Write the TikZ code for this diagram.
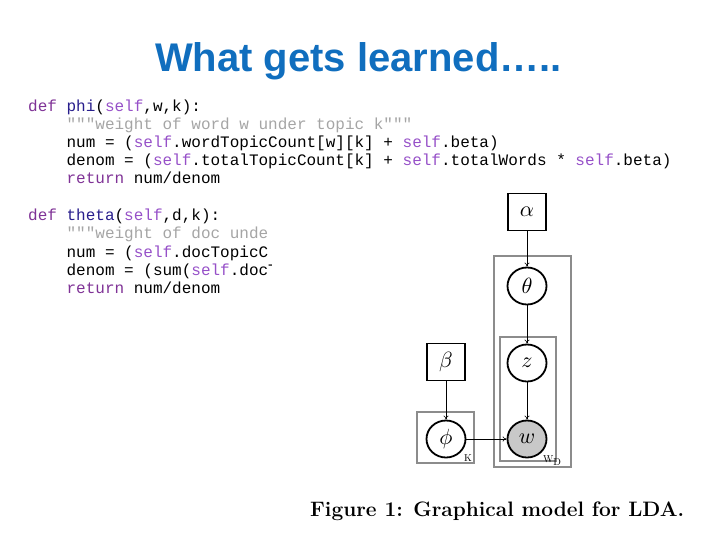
\documentclass[tikz,border=0pt]{standalone}
\usepackage{fontspec}
\usepackage{graphicx}
\usetikzlibrary{shapes.geometric,arrows.meta}
\newfontfamily\titlefont{Liberation Sans}
\newfontfamily\codefont{Liberation Mono}
\definecolor{titleblue}{RGB}{16,110,190}
\definecolor{kwc}{RGB}{127,50,150}
\definecolor{fnc}{RGB}{40,30,140}
\definecolor{slfc}{RGB}{150,80,200}
\definecolor{strc}{RGB}{165,165,165}
\definecolor{platec}{RGB}{140,140,140}
\definecolor{obsc}{RGB}{200,200,200}
\newcommand\kw[1]{\textcolor{kwc}{#1}}
\newcommand\fnn[1]{\textcolor{fnc}{#1}}
\newcommand\slf[1]{\textcolor{slfc}{#1}}
\newcommand\strg[1]{\textcolor{strc}{#1}}
\tikzset{
  codeline/.style={anchor=base west, inner sep=0pt, font=\codefont\fontsize{16}{18}\selectfont},
  latent/.style={ellipse, draw, line width=1.8pt, minimum width=39pt, minimum height=37pt, inner sep=0pt, fill=white},
  observed/.style={latent, fill=obsc},
  param/.style={rectangle, draw, line width=1.5pt, minimum width=38pt, minimum height=37pt, inner sep=0pt},
  plate/.style={draw=platec, line width=1.5pt},
  edge/.style={-{To[length=4pt,width=5pt]}, line width=0.6pt},
  platelabel/.style={inner sep=0pt, font=\fontsize{10}{12}\selectfont}
}
\begin{document}
\begin{tikzpicture}[x=1pt,y=-1pt]
\useasboundingbox (0,0) rectangle (720,540);
% title
\node[anchor=base, inner sep=0pt, text=titleblue, font=\titlefont\bfseries\fontsize{40}{48}\selectfont] (title) at (358.5,72) {What gets learned…..};
% code block 1
\node[codeline] (a1) at (28,112) {\kw{def} \fnn{phi}(\slf{self},w,k):};
\node[codeline] (a2) at (66.4,130) {\strg{"""weight of word w under topic k"""}};
\node[codeline] (a3) at (66.4,148) {num = (\slf{self}.wordTopicCount[w][k] + \slf{self}.beta)};
\node[codeline] (a4) at (66.4,166) {denom = (\slf{self}.totalTopicCount[k] + \slf{self}.totalWords * \slf{self}.beta)};
\node[codeline] (a5) at (66.4,184) {\kw{return} num/denom};
% code block 2 (partly hidden by the figure)
\begin{scope}
\clip (0,195) rectangle (271,300);
\node[codeline] (b1) at (28,221) {\kw{def} \fnn{theta}(\slf{self},d,k):};
\node[codeline] (b2) at (66.4,239) {\strg{"""weight of doc unde}};
\node[codeline] (b3) at (66.4,257) {num = (\slf{self}.docTopicC};
\node[codeline] (b4) at (66.4,275) {denom = (sum(\slf{self}.docT};
\node[codeline] (b5) at (66.4,293) {\kw{return} num/denom};
\end{scope}
% plates
\draw[plate] (494,256) rectangle (571,467);
\draw[plate] (500,337) rectangle (556,461);
\draw[plate] (417,412) rectangle (474,463);
\node[platelabel] (Klab) at (468,458) {K};
\node[platelabel, anchor=base west] (WDlab) at (543,462) {W\raisebox{-3pt}{D}};
% nodes
\node[param] (alpha) at (527,212) {\scalebox{2.2}{$\alpha$}};
\node[latent] (theta) at (527,286) {\scalebox{2.2}{$\theta$}};
\node[latent] (z) at (527,363) {\scalebox{2.2}{$z$}};
\node[observed] (w) at (527,439) {\scalebox{2.2}{$w$}};
\node[param] (beta) at (446,362) {\scalebox{2.2}{$\beta$}};
\node[latent] (phi) at (446,439) {\scalebox{2.2}{$\phi$}};
% edges
\draw[edge] (alpha) -- (theta);
\draw[edge] (theta) -- (z);
\draw[edge] (z) -- (w);
\draw[edge] (beta) -- (phi);
\draw[edge] (phi) -- (w);
% caption
\node[anchor=base west, inner sep=0pt, font=\bfseries\fontsize{20.9}{24}\selectfont] (caption) at (310,516) {Figure 1: Graphical model for LDA.};
\end{tikzpicture}
\end{document}
